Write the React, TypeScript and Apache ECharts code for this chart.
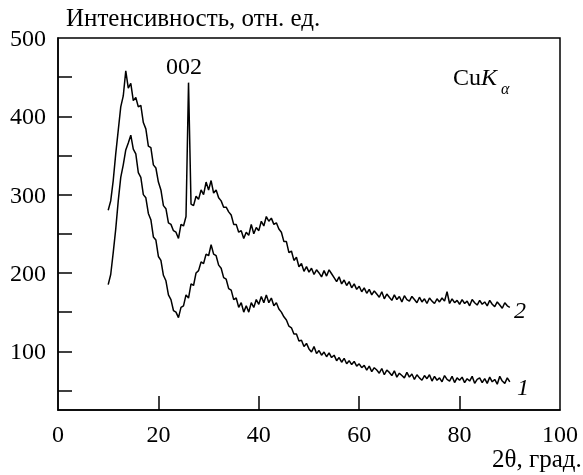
import React, { useEffect, useRef } from "react";
import * as echarts from "echarts";

// Sampling grid of the diffraction scans (2θ, degrees)
const ANGLE_START = 10;
const ANGLE_STEP = 0.5;

// Curve 1 (lower), intensity, 10°..90° every 0.5°
const curve1 = [
  185, 198, 226, 256, 292, 322, 338, 357, 366, 376,
  358, 352, 328, 322, 300, 296, 276, 268, 246, 242,
  221, 216, 197, 190, 172, 166, 152, 150, 143, 156,
  158, 172, 168, 186, 184, 200, 203, 214, 212, 224,
  222, 236, 224, 222, 210, 206, 194, 192, 180, 178,
  166, 168, 156, 162, 150, 158, 150, 162, 156, 166,
  160, 170, 162, 172, 162, 168, 158, 162, 154, 150,
  144, 140, 132, 130, 122, 122, 113, 114, 106, 110,
  103, 99, 106, 97, 101, 95, 99, 93, 98, 92,
  95, 88, 92, 86, 91, 84, 88, 83, 87, 81,
  84, 79, 82, 76, 81, 74, 79, 76, 72, 78,
  70, 76, 73, 69, 75, 67, 72, 69, 66, 73,
  67, 71, 64, 70, 66, 63, 69, 65, 70, 62,
  68, 63, 66, 61, 69, 64, 62, 68, 60, 66,
  63, 67, 60, 65, 62, 68, 59, 64, 66, 60,
  65, 59, 67, 61, 64, 58, 68, 62, 59, 66,
  61,
];

// Curve 2 (upper), with the 002 reflection at 26°
const curve2 = [
  280, 292, 318, 352, 382, 412, 426, 458, 436, 442,
  420, 424, 412, 414, 392, 384, 362, 360, 338, 334,
  316, 306, 286, 282, 264, 262, 254, 252, 244, 262,
  260, 272, 443, 288, 286, 298, 294, 306, 300, 316,
  306, 318, 302, 306, 296, 292, 284, 284, 278, 274,
  262, 262, 252, 254, 244, 252, 248, 262, 250, 258,
  254, 266, 260, 272, 266, 270, 262, 264, 256, 252,
  240, 240, 226, 228, 216, 220, 208, 212, 202, 208,
  201, 206, 198, 204, 200, 195, 203, 196, 204, 199,
  194, 189, 195, 186, 191, 184, 189, 181, 186, 179,
  183, 176, 181, 174, 179, 172, 177, 173, 169, 176,
  167, 173, 169, 165, 172, 166, 170, 163, 171, 166,
  164, 170, 166, 162, 169, 163, 167, 161, 168, 164,
  161, 167, 163, 168, 164, 176, 161, 167, 162, 165,
  160, 166, 161, 164, 158, 166, 162, 159, 165, 160,
  163, 158, 165, 160, 157, 163, 159, 155, 162, 158,
  156,
];

const xTickValues = [20, 40, 60, 80];
const xLabelValues = [0, 20, 40, 60, 80, 100];
const yTickValues = [50, 100, 150, 200, 250, 300, 350, 400, 450];
const yLabelValues = [100, 200, 300, 400, 500];

const yTitle = "Интенсивность, отн. ед.";
const xTitle = "2θ, град.";
const peakLabel = "002";
const curveNames = ["1", "2"];

const FONT = "Liberation Serif";
const FS = 24;
const TITLE_FS = 25;

function toPairs(values: number[]) {
  return values.map((v, i) => [ANGLE_START + ANGLE_STEP * i, v]);
}

export default function App() {
  const ref = useRef<HTMLDivElement>(null);

  useEffect(() => {
    if (!ref.current) return;
    const chart = echarts.init(ref.current, null, { renderer: "svg" });
    const axisLineStyle = { color: "#000", width: 1.5 };
    const labelStyle = { color: "#000", fontSize: FS, fontFamily: FONT };
    chart.setOption({
      animation: false,
      grid: {
        left: 58,
        right: 23,
        top: 38,
        bottom: 65,
        show: true,
        borderColor: "#000",
        borderWidth: 1.5,
        backgroundColor: "transparent",
      },
      xAxis: {
        type: "value",
        min: 0,
        max: 100,
        axisLine: { show: true, onZero: false, lineStyle: axisLineStyle },
        axisTick: {
          show: true,
          inside: true,
          length: 14,
          lineStyle: axisLineStyle,
          customValues: xTickValues,
        },
        axisLabel: { ...labelStyle, margin: 12, customValues: xLabelValues },
        splitLine: { show: false },
      },
      yAxis: {
        type: "value",
        min: 25,
        max: 500,
        axisLine: { show: true, onZero: false, lineStyle: axisLineStyle },
        axisTick: {
          show: true,
          inside: true,
          length: 14,
          lineStyle: axisLineStyle,
          customValues: yTickValues,
        },
        axisLabel: { ...labelStyle, margin: 12, customValues: yLabelValues },
        splitLine: { show: false },
      },
      series: [
        {
          name: curveNames[0],
          type: "line",
          data: toPairs(curve1),
          showSymbol: false,
          lineStyle: { color: "#000", width: 1.5 },
        },
        {
          name: curveNames[1],
          type: "line",
          data: toPairs(curve2),
          showSymbol: false,
          lineStyle: { color: "#000", width: 1.5 },
        },
      ],
      graphic: [
        {
          type: "text",
          x: 66,
          y: 5,
          style: { text: yTitle, fontFamily: FONT, fontSize: TITLE_FS, fill: "#000" },
        },
        {
          type: "text",
          x: 492,
          y: 446,
          style: { text: xTitle, fontFamily: FONT, fontSize: TITLE_FS, fill: "#000" },
        },
        {
          type: "text",
          x: 166,
          y: 54,
          style: { text: peakLabel, fontFamily: FONT, fontSize: FS, fill: "#000" },
        },
        {
          type: "text",
          x: 453,
          y: 65,
          style: { text: "Cu", fontFamily: FONT, fontSize: FS, fill: "#000" },
        },
        {
          type: "text",
          x: 481,
          y: 65,
          style: { text: "K", fontFamily: FONT, fontSize: FS, fontStyle: "italic", fill: "#000" },
        },
        {
          type: "text",
          x: 501,
          y: 80,
          style: { text: "α", fontFamily: FONT, fontSize: 16, fontStyle: "italic", fill: "#000" },
        },
        {
          type: "text",
          x: 514,
          y: 298,
          style: { text: curveNames[1], fontFamily: FONT, fontSize: FS, fontStyle: "italic", fill: "#000" },
        },
        {
          type: "text",
          x: 517,
          y: 375,
          style: { text: curveNames[0], fontFamily: FONT, fontSize: FS, fontStyle: "italic", fill: "#000" },
        },
      ],
    });
    return () => chart.dispose();
  }, []);

  return (
    <div ref={ref} style={{ position: "fixed", left: 0, top: 0, width: 583, height: 475 }} />
  );
}
